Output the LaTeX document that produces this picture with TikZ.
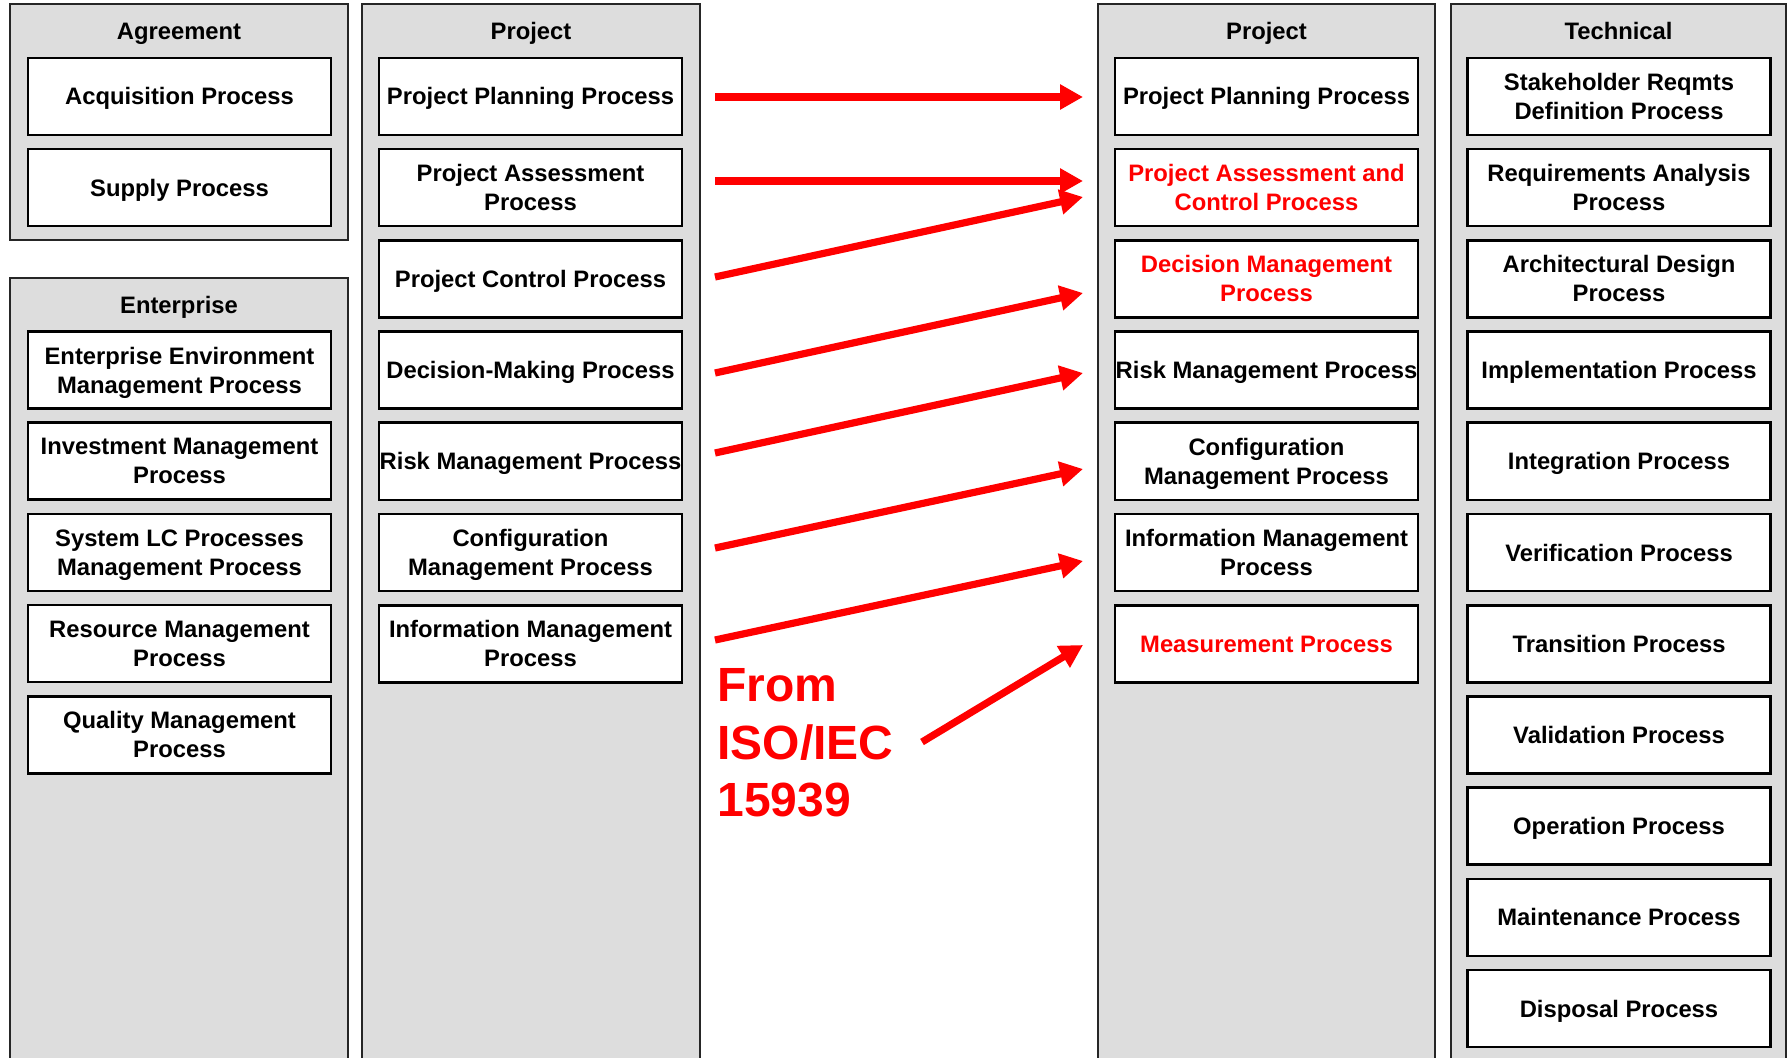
\documentclass[tikz,border=0pt]{standalone}
\usepackage{fontspec}
\setmainfont{Liberation Sans}
\usetikzlibrary{arrows.meta}
\definecolor{colgray}{HTML}{DDDDDD}
\definecolor{isored}{HTML}{FF0000}
\begin{document}
\begin{tikzpicture}[x=0.5pt,y=-0.5pt,
  column/.style={fill=colgray, draw=black!85, line width=0.9pt},
  coltitle/.style={font=\bfseries\fontsize{11.9pt}{14pt}\selectfont, inner sep=0pt, anchor=base},
  proc/.style={draw=black, fill=white, line width=1.3pt, minimum width=151.5pt, minimum height=38.5pt,
    inner sep=0pt, align=center, font=\bfseries\fontsize{11.9pt}{14.5pt}\selectfont},
  proc1/.style={proc, text height=8.5pt, text depth=0pt},
  newproc/.style={proc, text=isored},
  newproc1/.style={proc1, text=isored},
  link/.style={draw=isored, line width=3.6pt, -{Triangle[length=11.5pt,width=12pt]}}
]
\useasboundingbox (0,0) rectangle (1791,1058);
\clip (0,0) rectangle (1791,1058);
\fill[white] (0,0) rectangle (1791,1058);

% columns
\path[column] (10,4) rectangle (348,240);
\path[column] (10,278) rectangle (348,1080);
\path[column] (362,4) rectangle (700,1080);
\path[column] (1098,4) rectangle (1435,1080);
\path[column] (1451,4) rectangle (1786,1080);

% titles
\node[coltitle] (tagr) at (179,40) {Agreement};
\node[coltitle] (tent) at (179,314) {Enterprise};
\node[coltitle] (tprl) at (531,40) {Project};
\node[coltitle] (tprr) at (1266.5,40) {Project};
\node[coltitle] (ttec) at (1618.5,40) {Technical};

% agreement
\node[proc1] (acq) at (179.5,96.5) {Acquisition Process};
\node[proc1] (sup) at (179.5,187.7) {Supply Process};

% enterprise
\node[proc] (ee) at (179.5,370) {Enterprise Environment\\\smash{Management Process}};
\node[proc] (im) at (179.5,461.2) {Investment Management\\Process};
\node[proc] (slc) at (179.5,552.4) {System LC Processes\\\smash{Management Process}};
\node[proc] (rm) at (179.5,643.6) {Resource Management\\Process};
\node[proc] (qm) at (179.5,734.8) {Quality Management\\Process};

% project (left, old)
\node[proc1] (lpp) at (530.5,96.5) {Project Planning Process};
\node[proc] (lpa) at (530.5,187.7) {Project Assessment\\Process};
\node[proc1] (lpc) at (530.5,278.9) {Project Control Process};
\node[proc1] (ldm) at (530.5,370.1) {Decision-Making Process};
\node[proc1] (lrm) at (530.5,461.3) {Risk Management Process};
\node[proc] (lcm) at (530.5,552.5) {Configuration\\\smash{Management Process}};
\node[proc] (lim) at (530.5,643.7) {Information Management\\Process};

% project (right, new)
\node[proc1] (rpp) at (1266.5,96.5) {Project Planning Process};
\node[newproc] (rpa) at (1266.5,187.7) {Project Assessment and\\Control Process};
\node[newproc] (rdm) at (1266.5,278.9) {Decision Management\\Process};
\node[proc1] (rrm) at (1266.5,370.1) {Risk Management Process};
\node[proc] (rcm) at (1266.5,461.3) {Configuration\\\smash{Management Process}};
\node[proc] (rim) at (1266.5,552.5) {Information Management\\Process};
\node[newproc1] (rme) at (1266.5,643.7) {Measurement Process};

% technical
\node[proc] (t1) at (1619,96.5) {Stakeholder Reqmts\\Definition Process};
\node[proc] (t2) at (1619,187.7) {Requirements Analysis\\Process};
\node[proc] (t3) at (1619,278.9) {Architectural Design\\Process};
\node[proc1] (t4) at (1619,370.1) {Implementation Process};
\node[proc1] (t5) at (1619,461.3) {Integration Process};
\node[proc1] (t6) at (1619,552.5) {Verification Process};
\node[proc1] (t7) at (1619,643.7) {Transition Process};
\node[proc1] (t8) at (1619,734.9) {Validation Process};
\node[proc1] (t9) at (1619,826.1) {Operation Process};
\node[proc1] (t10) at (1619,917.3) {Maintenance Process};
\node[proc1] (t11) at (1619,1008.5) {Disposal Process};

% source label
\node[anchor=north west, text=isored, align=left, inner sep=0pt,
  font=\bfseries\fontsize{24pt}{28.8pt}\selectfont] (iso) at (717,668) {From\\ISO/IEC\\15939};

% arrow end points
\coordinate (s1) at (715,97);  \coordinate (e1) at (1083,97);
\coordinate (s2) at (715,181); \coordinate (e2) at (1083,181);
\coordinate (s3) at (715,277); \coordinate (e3) at (1083,197);
\coordinate (s4) at (715,373); \coordinate (e4) at (1083,293);
\coordinate (s5) at (715,453); \coordinate (e5) at (1083,373);
\coordinate (s6) at (715,548); \coordinate (e6) at (1083,469);
\coordinate (s7) at (715,640); \coordinate (e7) at (1083,561);
\coordinate (s8) at (922,742); \coordinate (e8) at (1083,645);

\draw[link] (s1) -- (e1);
\draw[link] (s2) -- (e2);
\draw[link] (s3) -- (e3);
\draw[link] (s4) -- (e4);
\draw[link] (s5) -- (e5);
\draw[link] (s6) -- (e6);
\draw[link] (s7) -- (e7);
\draw[link] (s8) -- (e8);
\end{tikzpicture}
\end{document}
